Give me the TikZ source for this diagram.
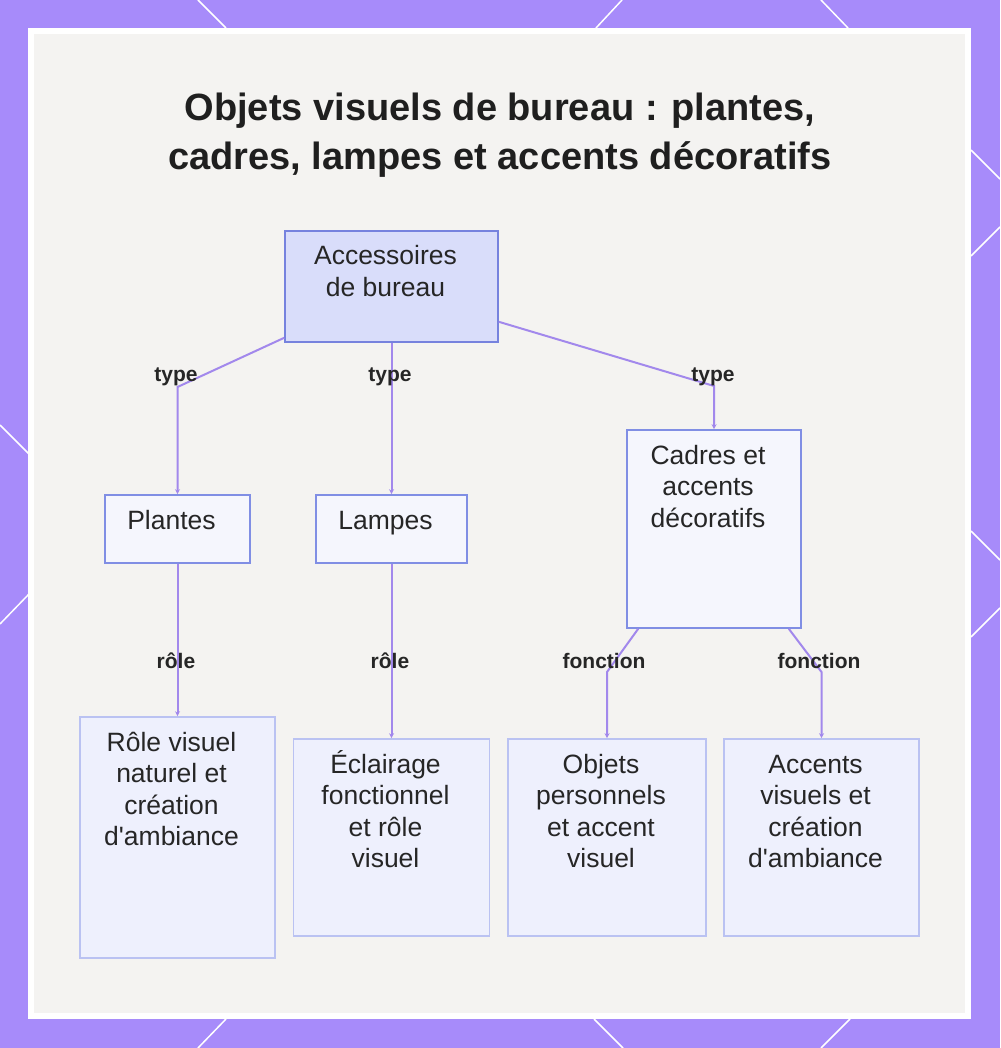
\documentclass[tikz,border=0pt]{standalone}
\usepackage{fontspec}
\setmainfont{Liberation Sans}
\usetikzlibrary{arrows.meta, positioning, calc}
\definecolor{frameviolet}{RGB}{167,139,250}
\definecolor{panelgray}{RGB}{244,243,241}
\definecolor{linkviolet}{RGB}{162,136,236}
\definecolor{rootfill}{RGB}{217,221,250}
\definecolor{rootdraw}{RGB}{118,130,222}
\definecolor{midfill}{RGB}{245,246,253}
\definecolor{middraw}{RGB}{128,142,228}
\definecolor{leaffill}{RGB}{238,240,253}
\definecolor{leafdraw}{RGB}{186,194,242}
\definecolor{inkgray}{RGB}{38,38,38}

% box text: width, height, lines (first baseline 34pt under the top)
\newcommand{\boxtext}[3]{\hspace*{-6pt}\begin{minipage}[t][#2][t]{#1}\centering\rule{0pt}{34pt}#3\end{minipage}\hspace*{6pt}}

\begin{document}
\begin{tikzpicture}[x=1pt, y=-1pt,
    box/.style={draw=middraw, fill=midfill, line width=1.6pt, inner sep=0pt,
                font=\fontsize{26.5}{31.5}\selectfont, text=inkgray},
    rootbox/.style={box, draw=rootdraw, fill=rootfill},
    leafbox/.style={box, draw=leafdraw, fill=leaffill},
    link/.style={-{Stealth[length=5pt, width=5pt]}, linkviolet, line width=2pt},
    tag/.style={font=\fontsize{21}{24}\selectfont\bfseries, text=inkgray, inner sep=0pt}
  ]
    \useasboundingbox (0,0) rectangle (1000,1048);

    % frame
    \fill[frameviolet] (0,0) rectangle (1000,1048);
    \foreach \xa/\ya/\xb/\yb in {
      198/0/226/28, 622/0/596/28, 821/0/848/28,
      226/1019/198/1048, 594/1019/623/1048, 850/1019/821/1048,
      0/425/29/454, 29/594/0/624,
      971/150/1000/179, 1000/227/971/256, 971/531/1000/560, 1000/608/971/637}{
      \draw[white, line width=1.5pt] (\xa,\ya) -- (\xb,\yb);
    }
    \fill[white] (28,28) rectangle (971,1019);
    \fill[panelgray] (34,34) rectangle (965,1013);

    % title
    \node[font=\fontsize{38}{49}\selectfont\bfseries, align=center, text=black!88, inner sep=0pt]
      (title) at (500,135.5) {Objets visuels de bureau : plantes,\\cadres, lampes et accents décoratifs};

    % boxes
    \node[rootbox] (acc)    at (391.5,286.5) {\boxtext{213pt}{111pt}{Accessoires\\de bureau}};
    \node[box]     (plant)  at (177.5,529)   {\boxtext{145pt}{68pt}{Plantes}};
    \node[box]     (lamp)   at (391.5,529)   {\boxtext{151pt}{68pt}{Lampes}};
    \node[box]     (frame)  at (714,529)     {\boxtext{174pt}{198pt}{Cadres et\\accents\\décoratifs}};
    \node[leafbox] (rolev)  at (177.5,837.5) {\boxtext{195pt}{241pt}{Rôle visuel\\naturel et\\création\\d\textquotesingle ambiance}};
    \node[leafbox] (light)  at (391.5,837.5) {\boxtext{196pt}{197pt}{Éclairage\\fonctionnel\\et rôle\\visuel}};
    \node[leafbox] (perso)  at (607,837.5)   {\boxtext{198pt}{197pt}{Objets\\personnels\\et accent\\visuel}};
    \node[leafbox] (accent) at (821.5,837.5) {\boxtext{195pt}{197pt}{Accents\\visuels et\\création\\d\textquotesingle ambiance}};

    % bends
    \coordinate (kplant)  at (177.5,387);
    \coordinate (kframe)  at (714,386);
    \coordinate (kperso)  at (607,672);
    \coordinate (kaccent) at (821.5,672);

    % links
    \draw[link] ($(acc.south west)+(0,-5)$) -- (kplant) -- (plant.north);
    \draw[link] (acc.south) -- (lamp.north);
    \draw[link] ($(acc.south east)+(0,-21)$) -- (kframe) -- (frame.north);
    \draw[link] (plant.south) -- (rolev.north);
    \draw[link] (lamp.south) -- (light.north);
    \draw[link] ($(frame.south west)+(12,0)$) -- (kperso) -- (perso.north);
    \draw[link] ($(frame.south east)+(-13,0)$) -- (kaccent) -- (accent.north);

    % link labels
    \node[tag] (t1) at (176,377) {type};
    \node[tag] (t2) at (390,377) {type};
    \node[tag] (t3) at (713,377) {type};
    \node[tag] (r1) at (176,661) {rôle};
    \node[tag] (r2) at (390,661) {rôle};
    \node[tag] (f1) at (604,661) {fonction};
    \node[tag] (f2) at (819,661) {fonction};
  \end{tikzpicture}
\end{document}
